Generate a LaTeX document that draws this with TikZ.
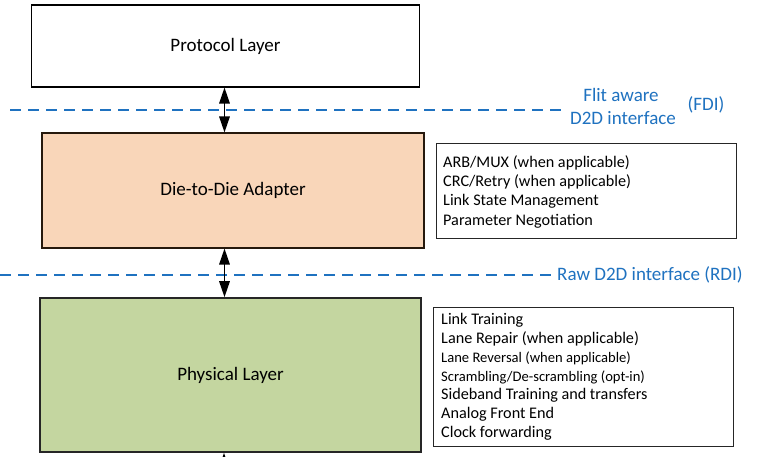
\documentclass[tikz,border=0pt]{standalone}
\usepackage{fontspec}
\setmainfont{Carlito}
\usetikzlibrary{arrows.meta}
\definecolor{ifblue}{HTML}{1F72C0}
\definecolor{peach}{HTML}{F9D6B9}
\definecolor{physgreen}{HTML}{C4D6A0}
\tikzset{
  layerbox/.style={draw=black, line width=1.1pt, inner sep=0pt, font=\fontsize{19}{22}\selectfont},
  infobox/.style={draw=black!85, line width=0.9pt, inner sep=0pt},
  infotext/.style={anchor=west, inner sep=0pt, font=\fontsize{16.2}{19}\selectfont},
  infosmall/.style={anchor=west, inner sep=0pt, font=\fontsize{14.6}{17}\selectfont},
  ifline/.style={draw=ifblue, line width=2.1pt, dash pattern=on 11pt off 7pt},
  iftext/.style={text=ifblue, inner sep=0pt, font=\fontsize{19}{22}\selectfont},
  biarrow/.style={line width=1.6pt, {Triangle[width=10.5pt,length=16pt]}-{Triangle[width=10.5pt,length=16pt]}},
}
\begin{document}
\begin{tikzpicture}[x=1pt,y=-1pt]
\useasboundingbox (0,0) rectangle (779,457);
\clip (0,0) rectangle (779,457);
\fill[white] (0,0) rectangle (779,457);

% layer boxes
\node[layerbox, fill=white, minimum width=388pt, minimum height=82pt] (proto) at (225.5,46) {Protocol Layer};
\node[layerbox, fill=peach, draw=black!80!brown, minimum width=382pt, minimum height=115pt] (d2d) at (233,190.5) {Die-to-Die Adapter};
\node[layerbox, fill=physgreen, draw=black!85, line width=1.6pt, minimum width=381pt, minimum height=154pt] (phy) at (230.5,375) {Physical Layer};

% interface lines
\coordinate (fdiL) at (10,110);
\coordinate (fdiR) at (561,110);
\draw[ifline] (fdiL) -- (fdiR);
\node[iftext] (flit) at (621,95) {Flit aware};
\node[iftext] (d2dif) at (623,118) {D2D interface};
\node[iftext] (fdi) at (706,105) {(FDI)};

\coordinate (rdiL) at (0,275);
\coordinate (rdiR) at (553,275);
\draw[ifline] (rdiL) -- (rdiR);
\node[iftext, anchor=west] (rdi) at (557,275) {Raw D2D interface (RDI)};

% arrows
\draw[biarrow] (proto.south -| 224.5,0) -- (d2d.north -| 224.5,0);
\draw[biarrow] (d2d.south -| 224.5,0) -- (phy.north -| 224.5,0);
\coordinate (botend) at (224,490);
\draw[biarrow] (phy.south -| 224,0) -- (botend);

% info boxes
\node[infobox, minimum width=300pt, minimum height=95pt] (info1) at (586,190.5) {};
\foreach \t [count=\i] in {ARB/MUX (when applicable), CRC/Retry (when applicable), Link State Management, Parameter Negotiation}
  \node[infotext] (i1l\i) at (443,{163+19.3*(\i-1)}) {\t};

\node[infobox, minimum width=300pt, minimum height=139pt] (info2) at (583,376.5) {};
\node[infotext] (i2l1) at (441,320) {Link Training};
\node[infotext] (i2l2) at (441,339) {Lane Repair (when applicable)};
\node[infosmall] (i2l3) at (441,358) {Lane Reversal (when applicable)};
\node[infosmall] (i2l4) at (441,377) {Scrambling/De-scrambling (opt-in)};
\node[infotext] (i2l5) at (441,395.5) {Sideband Training and transfers};
\node[infotext] (i2l6) at (441,414.5) {Analog Front End};
\node[infotext] (i2l7) at (441,433) {Clock forwarding};
\end{tikzpicture}
\end{document}
